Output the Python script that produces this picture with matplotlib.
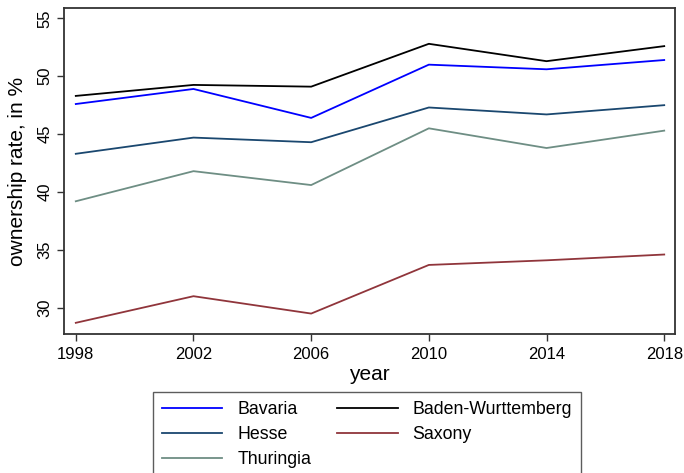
import matplotlib
matplotlib.use("Agg")
import matplotlib.pyplot as plt

plt.rcParams['font.family'] = ['Liberation Sans', 'DejaVu Sans']

years = [1998, 2002, 2006, 2010, 2014, 2018]
bavaria = [47.6, 48.9, 46.4, 51.0, 50.6, 51.4]
baden_wurttemberg = [48.3, 49.25, 49.1, 52.8, 51.3, 52.6]
hesse = [43.3, 44.7, 44.3, 47.3, 46.7, 47.5]
saxony = [28.7, 31.0, 29.5, 33.7, 34.1, 34.6]
thuringia = [39.2, 41.8, 40.6, 45.5, 43.8, 45.3]
yticks = [30, 35, 40, 45, 50, 55]

fig = plt.figure(figsize=(6.84, 4.73), dpi=100)
ax = fig.add_axes([0.0936, 0.294, 0.8934, 0.689])

lw = 1.3
l1, = ax.plot(years, bavaria, color='#0000ff', lw=lw, label='Bavaria')
l2, = ax.plot(years, baden_wurttemberg, color='#000000', lw=lw, label='Baden-Wurttemberg')
l3, = ax.plot(years, hesse, color='#1a476f', lw=lw, label='Hesse')
l4, = ax.plot(years, saxony, color='#90353b', lw=lw, label='Saxony')
l5, = ax.plot(years, thuringia, color='#6e8e84', lw=lw, label='Thuringia')

ax.set_xlim(1997.6, 2018.37)
ax.set_ylim(27.74, 55.89)
ax.set_xticks(years)
ax.set_yticks(yticks)
ax.set_yticklabels([str(t) for t in yticks], rotation=90, va='center')
ax.tick_params(axis='both', labelsize=12, length=5, width=1, direction='out', color='#333333')
ax.tick_params(axis='x', pad=4.5)
for s in ax.spines.values():
    s.set_linewidth(1.3)
    s.set_color('#333333')

ax.set_xlabel('year', fontsize=15, labelpad=2)
ax.set_ylabel('ownership rate, in %', fontsize=15, labelpad=7)

# column-major order so rows read: Bavaria | Baden-W ; Hesse | Saxony ; Thuringia
leg = fig.legend(handles=[l1, l3, l5, l2, l4], ncol=2, loc='upper left',
                 bbox_to_anchor=(153 / 684, 1 - 392 / 473), fontsize=12.8, frameon=True,
                 fancybox=False, handlelength=3.4, handletextpad=0.85, columnspacing=1.45,
                 borderpad=0.5, borderaxespad=0, labelspacing=0.45, edgecolor='#333333')
leg.get_frame().set_linewidth(1.0)

fig.savefig('out.png', dpi=100)
